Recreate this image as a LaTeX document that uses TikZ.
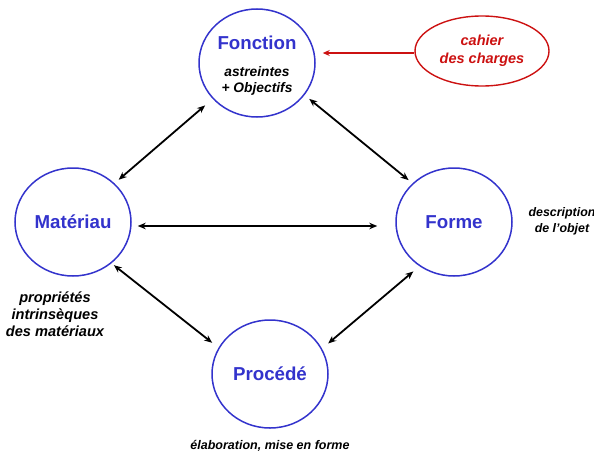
\documentclass[tikz,border=0pt]{standalone}
\usepackage{fontspec}
\setmainfont{Liberation Sans}
\usetikzlibrary{shapes.geometric,arrows.meta}
\definecolor{poleblue}{RGB}{51,51,204}
\definecolor{specred}{RGB}{204,17,17}
\begin{document}
\begin{tikzpicture}[x=1pt,y=-1pt,
  pole/.style={ellipse, draw=poleblue, line width=1.5pt, minimum width=116pt,
    minimum height=108pt, inner sep=0pt, text=poleblue,
    font=\fontsize{18.7}{22}\selectfont\bfseries},
  poletitle/.style={text=poleblue, inner sep=0pt, font=\fontsize{18.7}{22}\selectfont\bfseries},
  remark/.style={align=center, inner sep=0pt},
  biarr/.style={{Stealth[length=8pt,width=6.5pt]}-{Stealth[length=8pt,width=6.5pt]}, line width=1.8pt},
  redarr/.style={-{Stealth[length=7pt,width=6pt]}, draw=specred, line width=1.4pt}]
\useasboundingbox (0,0) rectangle (594,455);

% the four poles
\node[pole] (fon) at (257,63) {};
\node[pole] (mat) at (73,222) {Matériau};
\node[pole] (for) at (454,222) {Forme};
\node[pole] (pro) at (270,374) {Procédé};

% contents of the function pole
\node[poletitle] (fontitle) at (257,43) {Fonction};
\node[remark, font=\fontsize{13.8}{16}\selectfont\bfseries\itshape] (fonnote) at (257,81)
  {astreintes\\+ Objectifs};

% specification ellipse
\node[ellipse, draw=specred, line width=1.4pt, minimum width=134pt, minimum height=70pt,
  inner sep=0pt, text=specred, align=center,
  font=\fontsize{14.5}{18}\selectfont\bfseries\itshape] (chg) at (482,51) {cahier\\des charges};

% side remarks
\node[remark, font=\fontsize{14.6}{17}\selectfont\bfseries\itshape] (matnote) at (55,314)
  {propriétés\\intrinsèques\\des matériaux};
\node[remark, font=\fontsize{12.4}{16}\selectfont\bfseries\itshape] (fornote) at (562,221)
  {description\\de l’objet};
\node[remark, font=\fontsize{12.5}{15}\selectfont\bfseries\itshape] (pronote) at (270,446)
  {élaboration, mise en forme};

% links between poles
\draw[biarr, shorten <=10pt, shorten >=5.5pt] (fon.219.5) -- (mat.43);
\draw[biarr, shorten <=6pt, shorten >=5pt] (fon.-34.7) -- (for.137.7);
\draw[biarr, shorten <=6pt, shorten >=18pt] ([yshift=-4pt]mat.east) -- ([yshift=-4pt]for.west);
\draw[biarr, shorten <=3pt, shorten >=8pt] (mat.-47.8) -- (pro.153.4);
\draw[biarr, shorten <=8pt, shorten >=8pt] (pro.26.6) -- (for.232);

% specification feeds the function
\draw[redarr, shorten >=7pt] ([yshift=-2pt]chg.west) -- ([yshift=-2pt]chg.west -| fon.east);
\end{tikzpicture}
\end{document}
